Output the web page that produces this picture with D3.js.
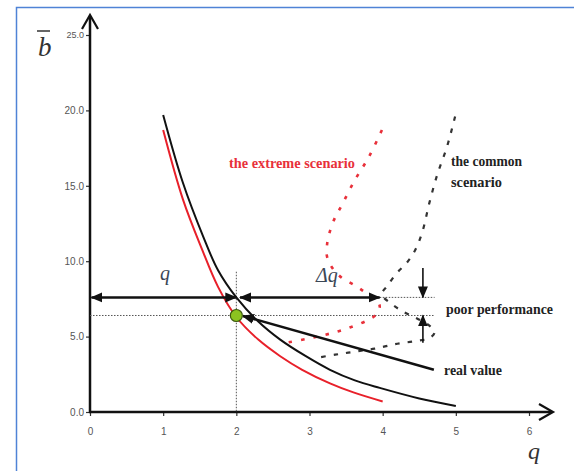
<!DOCTYPE html>
<html>
<head>
<meta charset="utf-8" />
<title>q vs b</title>
<script src="https://cdn.jsdelivr.net/npm/d3@7/dist/d3.min.js"></script>
<style>
body { margin: 0; background: white; }
svg { display: block; }
.tick text { font-family: Arial, "Liberation Sans", sans-serif; fill: #555; font-size: 10px; }
.lbl { font-family: "Liberation Serif", serif; font-weight: bold; }
</style>
</head>
<body>
<div id="chart"></div>
<script>
// curves [q, b]
var blackCurve = [[1,19.7],[1.27,15.2],[1.55,11.6],[1.75,9.4],[2,7.6],[2.3,6.0],[2.6,4.8],[2.95,3.7],[3.28,2.8],[3.62,2.1],[3.96,1.6],[4.5,0.9],[5,0.4]];
var redCurve = [[1,18.7],[1.27,14.1],[1.53,10.8],[1.75,8.3],[2,6.3],[2.3,4.8],[2.6,3.7],[2.9,2.8],[3.28,1.9],[3.6,1.3],[4,0.7]];
var realValue = [[2.09,6.37],[4.7,2.8]];
var extremeScenario = [[3.99,18.7],[3.81,16.9],[3.61,15.3],[3.44,13.7],[3.35,12.9],[3.28,12.0],[3.24,11.1],[3.24,10.3],[3.32,9.5],[3.44,8.9],[3.62,8.4],[3.77,7.9],[3.92,7.4],[3.96,7.0],[3.92,6.5],[3.80,6.1],[3.55,5.6],[3.28,5.2],[3.01,4.9],[2.69,4.6]];
var commonScenario = [[4.99,19.6],[4.88,17.6],[4.75,15.8],[4.64,13.9],[4.54,11.9],[4.44,10.7],[4.33,9.9],[4.19,9.2],[4.07,8.4],[3.99,7.8],[4.14,7.1],[4.30,6.6],[4.47,6.2],[4.62,5.8],[4.71,5.3],[4.64,4.9],[4.44,4.7],[4.17,4.5],[3.89,4.2],[3.62,4.0],[3.35,3.8],[3.11,3.6]];
var point = [2, 6.4];
var bHigh = 7.6;            // level of the q / delta q arrows
var qArrow = [0, 2];
var dqArrow = [2.05, 3.96];
var perfArrow = {q: 4.55, top: 9.55, bottom: 4.6};
var xTicks = [0,1,2,3,4,5,6];
var yTicks = [0,5,10,15,20,25];

var width = 574, height = 471;
var svg = d3.select("#chart").append("svg").attr("width", width).attr("height", height);

var x = d3.scaleLinear().domain([0,6]).range([90,529]);
var y = d3.scaleLinear().domain([0,25]).range([412,35]);

// frame
svg.append("path").attr("d","M16.5,471 V7.5 H574").attr("fill","none").attr("stroke","#4f83d6").attr("stroke-width",1.5);

var defs = svg.append("defs");
defs.append("marker").attr("id","ah").attr("viewBox","0 0 12 12").attr("refX",11).attr("refY",6)
    .attr("markerWidth",12).attr("markerHeight",12).attr("markerUnits","userSpaceOnUse")
    .attr("orient","auto-start-reverse")
  .append("path").attr("d","M0,1 L12,6 L0,11 Z").attr("fill","#111");

// axes
var xAxis = svg.append("g").attr("transform","translate(0,412)")
    .call(d3.axisBottom(x).tickValues(xTicks).tickSize(4).tickPadding(12).tickFormat(d3.format("d")));
var yAxis = svg.append("g").attr("transform","translate(90,0)")
    .call(d3.axisLeft(y).tickValues(yTicks).tickSize(4).tickPadding(2).tickFormat(d3.format(".1f")));
[xAxis, yAxis].forEach(function(a){
  a.select(".domain").remove();
  a.selectAll(".tick line").attr("stroke","#333").attr("stroke-width",1.2);
});
yAxis.selectAll(".tick text").filter(function(d){ return d === 25; }).style("font-size","9px");

svg.append("line").attr("x1",90).attr("x2",90).attr("y1",413).attr("y2",16).attr("stroke","#111").attr("stroke-width",2.5);
svg.append("line").attr("x1",89).attr("x2",552).attr("y1",412).attr("y2",412).attr("stroke","#111").attr("stroke-width",2.5);
svg.append("path").attr("d","M82,29 L90,15 L98,29").attr("fill","none").attr("stroke","#111").attr("stroke-width",2.2);
svg.append("path").attr("d","M539,404 L553,412 L539,420").attr("fill","none").attr("stroke","#111").attr("stroke-width",2.2);

// axis labels
svg.append("text").attr("x",38).attr("y",56).attr("font-family","Liberation Serif, serif").attr("font-style","italic")
  .attr("font-size",27).attr("fill","#333").text("b");
svg.append("line").attr("x1",37).attr("x2",50).attr("y1",31).attr("y2",31).attr("stroke","#333").attr("stroke-width",1.5);
svg.append("text").attr("x",528).attr("y",459).attr("font-family","Liberation Serif, serif").attr("font-style","italic")
  .attr("font-size",24).attr("fill","#333").text("q");

var line = d3.line().x(function(d){ return x(d[0]); }).y(function(d){ return y(d[1]); });
var curve = d3.line().curve(d3.curveCatmullRom).x(function(d){ return x(d[0]); }).y(function(d){ return y(d[1]); });

// dotted reference lines
var ref = svg.append("g").attr("stroke","#555").attr("stroke-width",1).attr("stroke-dasharray","1.5,1.5").attr("fill","none");
ref.append("path").attr("d", line([[point[0],9.3],[point[0],0]]));
ref.append("path").attr("d", line([[0,point[1]],[4.71,point[1]]]));
ref.append("path").attr("d", line([[dqArrow[1],bHigh],[4.71,bHigh]]));

// scenario curves
svg.append("path").attr("d", curve(extremeScenario)).attr("fill","none").attr("stroke","#e8303a")
  .attr("stroke-width",2.6).attr("stroke-dasharray","3.5,9");
svg.append("path").attr("d", curve(commonScenario)).attr("fill","none").attr("stroke","#333")
  .attr("stroke-width",2.2).attr("stroke-dasharray","4.5,8");

// main curves
svg.append("path").attr("d", curve(redCurve)).attr("fill","none").attr("stroke","#e8202a").attr("stroke-width",2);
svg.append("path").attr("d", curve(blackCurve)).attr("fill","none").attr("stroke","#111").attr("stroke-width",2);
svg.append("path").attr("d", line(realValue)).attr("fill","none").attr("stroke","#111").attr("stroke-width",2.5)
  .attr("marker-start","url(#ah)");

// arrows
var arr = svg.append("g").attr("stroke","#111").attr("stroke-width",2.5).attr("fill","none");
arr.append("path").attr("d", line([[qArrow[0]+0.02,bHigh],[qArrow[1],bHigh]])).attr("marker-start","url(#ah)").attr("marker-end","url(#ah)");
arr.append("path").attr("d", line([[dqArrow[0],bHigh],[dqArrow[1],bHigh]])).attr("marker-start","url(#ah)").attr("marker-end","url(#ah)");
arr.append("path").attr("d", line([[perfArrow.q,perfArrow.top],[perfArrow.q,bHigh]])).attr("stroke-width",1.6).attr("marker-end","url(#ah)");
arr.append("path").attr("d", line([[perfArrow.q,perfArrow.bottom],[perfArrow.q,point[1]]])).attr("stroke-width",1.6).attr("marker-end","url(#ah)");

// point
svg.append("circle").attr("cx",x(point[0])).attr("cy",y(point[1])).attr("r",6)
  .attr("fill","#8cc320").attr("stroke","#3d5a10").attr("stroke-width",1.2);

// annotation text
svg.append("text").attr("x",160).attr("y",280).attr("font-family","Liberation Serif, serif").attr("font-style","italic")
  .attr("font-size",20).attr("fill","#3b4756").text("q");
svg.append("text").attr("x",316).attr("y",282).attr("font-family","Liberation Serif, serif").attr("font-style","italic")
  .attr("font-size",20).attr("fill","#3b4756").text("Δq");
svg.append("text").attr("class","lbl").attr("x",229).attr("y",168).attr("font-size",14).attr("fill","#e8303a")
  .attr("textLength",126).attr("lengthAdjust","spacingAndGlyphs").text("the extreme scenario");
svg.append("text").attr("class","lbl").attr("x",451).attr("y",166).attr("font-size",14).attr("fill","#222")
  .attr("textLength",71).attr("lengthAdjust","spacingAndGlyphs").text("the common");
svg.append("text").attr("class","lbl").attr("x",451).attr("y",187).attr("font-size",14).attr("fill","#222")
  .attr("textLength",51).attr("lengthAdjust","spacingAndGlyphs").text("scenario");
svg.append("text").attr("class","lbl").attr("x",446).attr("y",314).attr("font-size",14).attr("fill","#222")
  .attr("textLength",107).attr("lengthAdjust","spacingAndGlyphs").text("poor performance");
svg.append("text").attr("class","lbl").attr("x",444).attr("y",375).attr("font-size",14).attr("fill","#222")
  .attr("textLength",58).attr("lengthAdjust","spacingAndGlyphs").text("real value");
</script>
</body>
</html>
